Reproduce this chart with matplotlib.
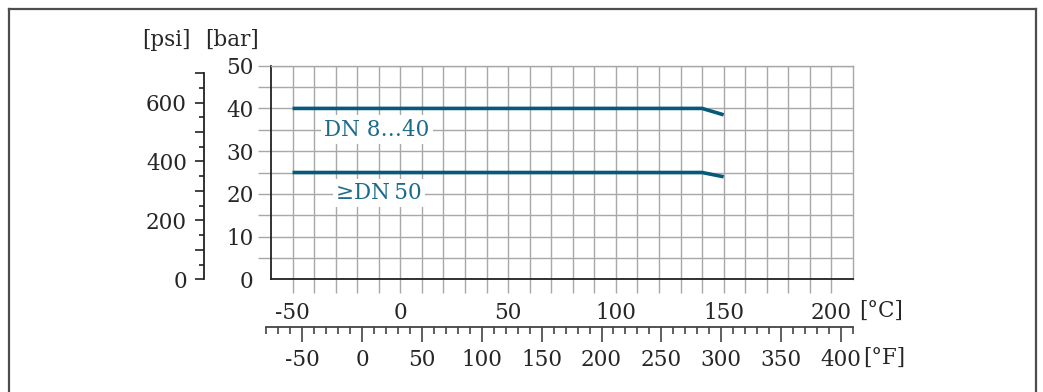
import matplotlib
matplotlib.use("Agg")
import matplotlib.pyplot as plt
from matplotlib.ticker import MultipleLocator, FixedLocator, FuncFormatter
from matplotlib.lines import Line2D

# ---- data ----
temps_c = [-50, 140, 150]
p_dn8_40 = [40, 40, 38.5]
p_dn50 = [25, 25, 24]
series_labels = ["DN 8\u202640", "\u2265DN\u200950"]
c_ticks = [-50, 0, 50, 100, 150, 200]
f_ticks = [-50, 0, 50, 100, 150, 200, 250, 300, 350, 400]
bar_ticks = [0, 10, 20, 30, 40, 50]
psi_ticks = [0, 200, 400, 600]

W, H = 1043, 392
FONT = "DejaVu Serif"
FS = 15.5
plt.rcParams['font.family'] = [FONT, 'DejaVu Sans']

fig = plt.figure(figsize=(W / 100, H / 100), dpi=100)

def fx(px):
    return px / W

def fy(py):
    return 1 - py / H

GRID = '#a8a8a8'
LINEC = '#07597a'
TEXTC = '#1c6b8a'
TXT = '#262626'

# main axes
x0, x1, yt, yb = 271, 853, 65.7, 279.3
ax = fig.add_axes([fx(x0), fy(yb), fx(x1) - fx(x0), (yb - yt) / H])
ax.set_xlim(-60, 210)
ax.set_ylim(0, 50)

ax.xaxis.set_major_locator(FixedLocator(c_ticks))
ax.xaxis.set_minor_locator(FixedLocator([v for v in range(-50, 201, 10) if v not in c_ticks]))
ax.yaxis.set_major_locator(FixedLocator(bar_ticks))
ax.yaxis.set_minor_locator(FixedLocator([v for v in range(5, 51, 5) if v not in bar_ticks]))
ax.set_xticklabels([str(v) for v in c_ticks])
ax.set_yticklabels([str(v) for v in bar_ticks])

ax.grid(True, which='both', color=GRID, linewidth=1.0, zorder=0)
ax.set_axisbelow(True)
ax.tick_params(axis='x', which='both', direction='out', length=10.1, width=1.0,
               color=GRID, pad=6.0, labelsize=FS, labelcolor=TXT)
ax.tick_params(axis='y', which='both', direction='out', length=9.4, width=1.0,
               color=GRID, pad=3.2, labelsize=FS, labelcolor=TXT)
for t in ax.yaxis.get_major_ticks():
    if t.get_loc() == 0:
        t.tick1line.set_visible(False)
for s in ['left', 'bottom']:
    ax.spines[s].set_color('#222222')
    ax.spines[s].set_linewidth(1.3)
for s in ['top', 'right']:
    ax.spines[s].set_color(GRID)
    ax.spines[s].set_linewidth(1.0)

ax.plot(temps_c, p_dn8_40, color=LINEC, linewidth=2.6, solid_capstyle='butt', zorder=3)
ax.plot(temps_c, p_dn50, color=LINEC, linewidth=2.6, solid_capstyle='butt', zorder=3)

box = dict(facecolor='white', edgecolor='none', pad=2.5)
ax.text(-11, 35, series_labels[0], ha='center', va='center', fontsize=FS,
        color=TEXTC, bbox=box, zorder=4)
ax.text(-10, 20.2, series_labels[1], ha='center', va='center', fontsize=FS,
        color=TEXTC, bbox=box, zorder=4)

# psi axis
bar_to_psi = 14.5038
axp = fig.add_axes([fx(204), fy(yb), 0.0001, (yb - yt) / H])
axp.set_ylim(0, 50 * bar_to_psi)
axp.set_xticks([])
for s in ['top', 'right', 'bottom']:
    axp.spines[s].set_visible(False)
axp.patch.set_visible(False)
axp.spines['left'].set_bounds(0, 700)
axp.spines['left'].set_color('#222222')
axp.spines['left'].set_linewidth(1.3)
axp.yaxis.set_major_locator(MultipleLocator(100))
axp.yaxis.set_minor_locator(MultipleLocator(50))
axp.yaxis.set_major_formatter(FuncFormatter(lambda v, p: str(int(round(v))) if int(round(v)) in psi_ticks else ''))
axp.tick_params(axis='y', which='major', length=6.5, width=1.2, color='#222222',
                pad=5.8, labelsize=FS, labelcolor=TXT)
axp.tick_params(axis='y', which='minor', length=3.6, width=1.2, color='#222222')

# Fahrenheit axis
def c2px(c):
    return x0 + (c + 60) * (x1 - x0) / 270.0

def f2c(f):
    return (f - 32) * 5 / 9

fa0, fa1 = -80, 410
axf = fig.add_axes([fx(c2px(f2c(fa0))), fy(326.7), fx(c2px(f2c(fa1))) - fx(c2px(f2c(fa0))), 0.0001])
axf.set_xlim(fa0, fa1)
axf.set_yticks([])
for s in ['top', 'right', 'left']:
    axf.spines[s].set_visible(False)
axf.patch.set_visible(False)
axf.spines['bottom'].set_color('#444444')
axf.spines['bottom'].set_linewidth(1.3)
axf.xaxis.set_major_locator(FixedLocator(f_ticks))
axf.xaxis.set_minor_locator(FixedLocator([v for v in range(fa0, fa1 + 1, 10) if v not in f_ticks]))
axf.set_xticklabels([str(v) for v in f_ticks])
axf.tick_params(axis='x', which='major', direction='out', length=10.8, width=1.2,
                color='#444444', pad=5.0, labelsize=FS, labelcolor=TXT)
axf.tick_params(axis='x', which='minor', direction='out', length=4.8, width=1.2,
                color='#444444')

# unit labels
fig.text(fx(166), fy(40), "[psi]", ha='center', va='center', fontsize=FS, color=TXT)
fig.text(fx(232), fy(40), "[bar]", ha='center', va='center', fontsize=FS, color=TXT)
fig.text(fx(881), fy(311), "[\u00b0C]", ha='center', va='center', fontsize=FS, color=TXT)
fig.text(fx(884), fy(358), "[\u00b0F]", ha='center', va='center', fontsize=FS, color=TXT)

# outer frame (left, top, right)
FR = '#4d4d4d'
fig.add_artist(Line2D([fx(9), fx(9)], [fy(8.5), 0], transform=fig.transFigure, color=FR, linewidth=1.6))
fig.add_artist(Line2D([fx(9), fx(1036)], [fy(8.5), fy(8.5)], transform=fig.transFigure, color=FR, linewidth=1.6))
fig.add_artist(Line2D([fx(1036), fx(1036)], [fy(8.5), 0], transform=fig.transFigure, color=FR, linewidth=1.6))

fig.savefig("out.png", dpi=100)
